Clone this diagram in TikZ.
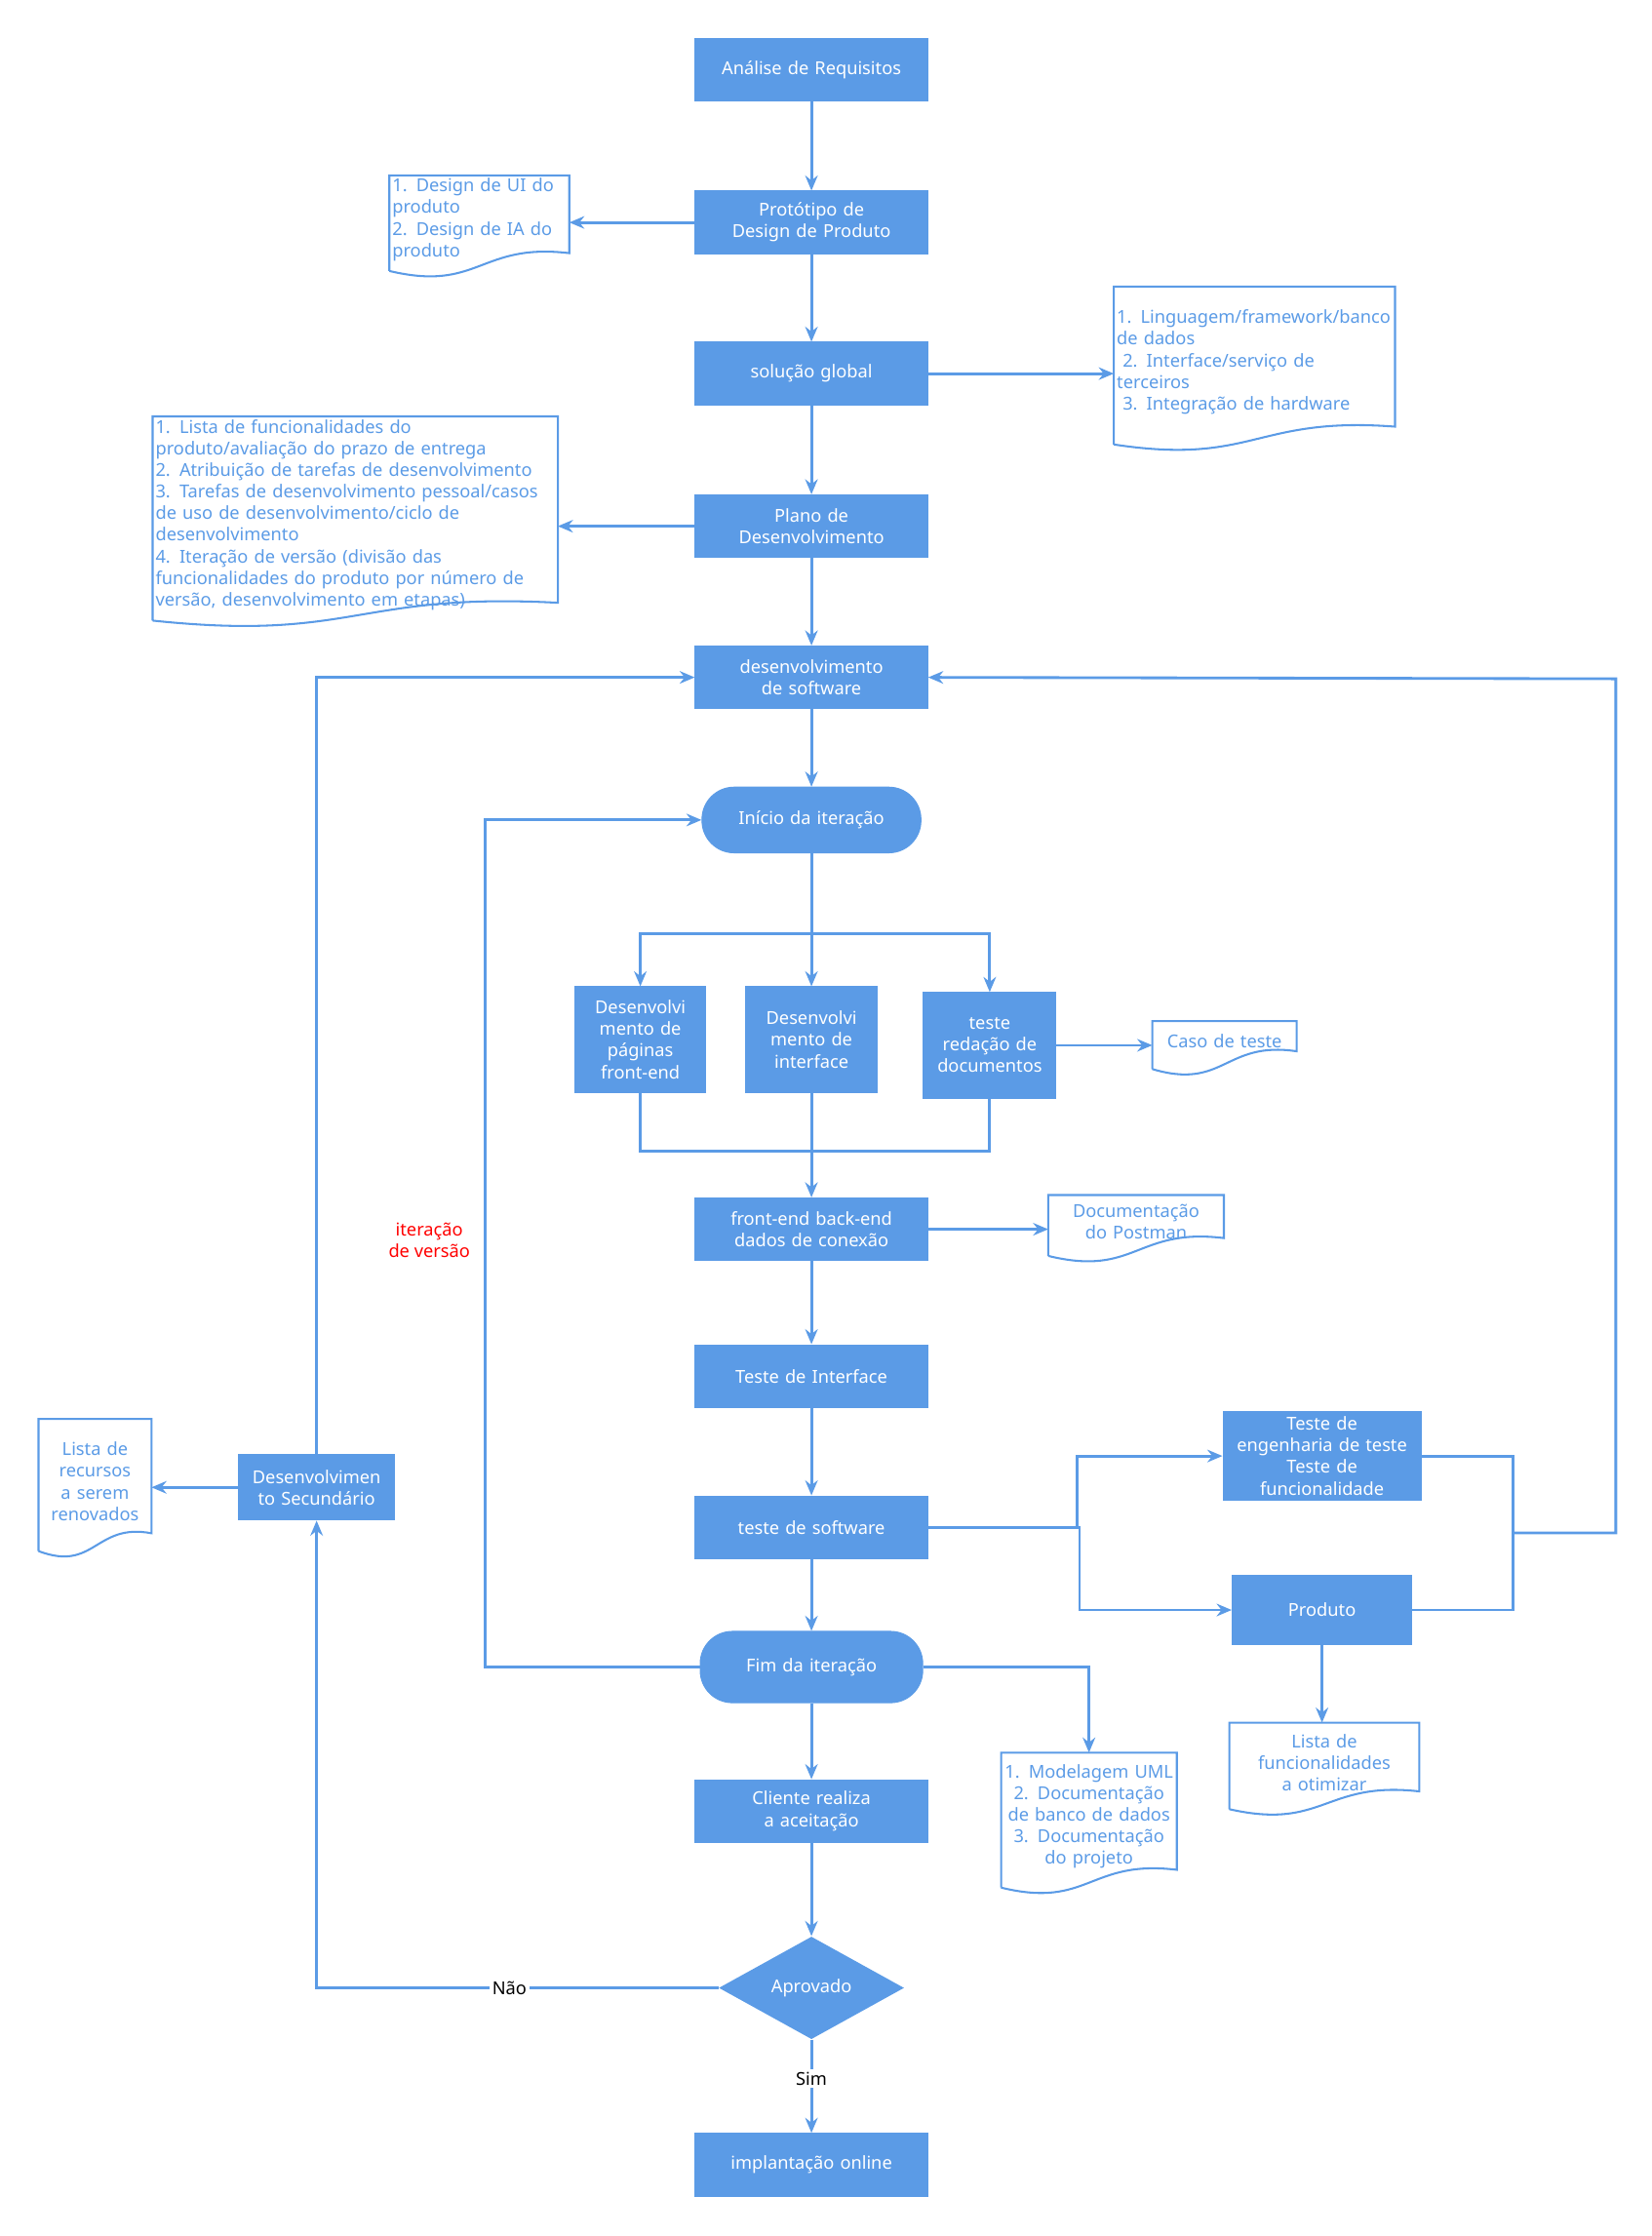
\documentclass[tikz,border=0pt]{standalone}
\usepackage{fontspec}
\setmainfont{Noto Sans}
\usetikzlibrary{positioning, shapes.geometric, arrows.meta, calc}
\definecolor{flow}{HTML}{5B9BE6}
\newcommand{\fs}{\fontsize{7.1}{8.6}\selectfont\hyphenpenalty=10000\exhyphenpenalty=10000}
\begin{document}
\begin{tikzpicture}[x=0.02cm, y=-0.02cm,
  proc/.style={draw=flow, fill=flow, text=white, minimum width=3.26cm, minimum height=0.88cm, text width=3cm, align=center, font=\fs, inner sep=1pt},
  term/.style={proc, rounded corners=0.45cm},
  decision/.style={diamond, fill=flow, text=white, minimum width=2.6cm, minimum height=1.44cm, inner sep=0pt, font=\fs},
  doc/.style={text=flow, inner sep=1pt, font=\fs, anchor=north west},
  link/.style={->, >={Stealth[length=6pt, width=5pt]}, draw=flow, line width=1.1pt},
  wire/.style={draw=flow, line width=1.1pt}
]
\useasboundingbox (0,0) rectangle (1158,1568);

% Main column
\node[proc] (Req) at (569,49) {Análise de Requisitos};
\node[proc] (Proto) at (569,156) {Protótipo de Design de Produto};
\node[proc] (Global) at (569,262) {solução global};
\node[proc] (Plano) at (569,369) {Plano de Desenvolvimento};
\node[proc] (DevSw) at (569,475) {desenvolvimento de software};
\node[term, minimum width=3.04cm, minimum height=0.92cm] (Inicio) at (569,575) {Início da iteração};
\node[proc, minimum width=1.84cm, text width=1.7cm, minimum height=1.48cm] (Front) at (449,729) {Desenvolvi mento de páginas front-end};
\node[proc, minimum width=1.84cm, text width=1.7cm, minimum height=1.48cm] (Inter) at (569,729) {Desenvolvi mento de interface};
\node[proc, minimum width=1.86cm, text width=1.6cm, minimum height=1.48cm] (TDoc) at (694,733) {teste redação de documentos};
\node[proc] (Conn) at (569,862) {front-end back-end dados de conexão};
\node[proc] (TInter) at (569,965) {Teste de Interface};
\node[proc] (TSoft) at (569,1071) {teste de software};
\node[term, minimum width=3.12cm, minimum height=1cm] (Fim) at (569,1169) {Fim da iteração};
\node[proc] (Cliente) at (569,1270) {Cliente realiza a aceitação};
\node[decision] (Aprov) at (569,1394) {Aprovado};
\node[proc] (Online) at (569,1518) {implantação online};
\node[proc, minimum width=2.78cm, text width=2.5cm, minimum height=1.24cm] (TEng) at (927,1021) {Teste de engenharia de teste\\Teste de funcionalidade};
\node[proc, minimum width=2.52cm, text width=2.4cm, minimum height=0.96cm] (Prod) at (927,1129) {Produto};
\node[proc, minimum width=2.18cm, text width=2cm, minimum height=0.92cm] (Sec) at (222,1043) {Desenvolvimen to Secundário};

% Documents
\node[doc, text width=2.44cm, minimum height=1.05cm, align=left] (dUI) at (273,123) {1. Design de UI do produto\\2. Design de IA do produto};
\node[doc, text width=3.86cm, minimum height=2.1cm, align=left] (dStack) at (781,201) {1. Linguagem/framework/banco de dados\\\ 2. Interface/serviço de terceiros\\\ 3. Integração de hardware};
\node[doc, text width=5.6cm, minimum height=2.75cm, align=left] (dPlano) at (107,292) {1. Lista de funcionalidades do produto/avaliação do prazo de entrega\\2. Atribuição de tarefas de desenvolvimento\\3. Tarefas de desenvolvimento pessoal/casos de uso de desenvolvimento/ciclo de desenvolvimento\\4. Iteração de versão (divisão das funcionalidades do produto por número de versão, desenvolvimento em etapas)};
\node[doc, text width=1.94cm, minimum height=0.56cm, align=center] (dCaso) at (808,716) {Caso de teste};
\node[doc, text width=2.38cm, minimum height=0.74cm, align=center] (dPost) at (735,838) {Documentação do Postman};
\node[doc, text width=2.38cm, minimum height=1.78cm, align=center] (dUML) at (702,1229) {1. Modelagem UML\\2. Documentação de banco de dados\\3. Documentação do projeto};
\node[doc, text width=2.58cm, minimum height=1.1cm, align=center] (dLista) at (862,1208) {Lista de funcionalidades a otimizar};
\node[doc, text width=1.5cm, minimum height=1.74cm, align=center] (dRec) at (27,995) {Lista de recursos a serem renovados};

\foreach \d in {dUI, dStack, dPlano, dCaso, dPost, dUML, dLista, dRec}
  \draw[draw=flow, line width=0.8pt] ($(\d.south west)+(0,-0.1cm)$) -- (\d.north west) -- (\d.north east) -- ($(\d.south east)+(0,0.15cm)$)
    .. controls ($(\d.south)+(0,0.3cm)$) and ($(\d.south)+(0,-0.4cm)$) .. ($(\d.south west)+(0,-0.1cm)$);

% Labels
\node[text=red, font=\fs, align=center] (lIter) at (301,870) {iteração\\de versão};

% Connectors
\draw[link] (Req) -- (Proto);
\draw[link] (Proto) -- (Global);
\draw[link] (Global) -- (Plano);
\draw[link] (Plano) -- (DevSw);
\draw[link] (DevSw) -- (Inicio);
\draw[link] (Proto.west) -- (Proto.west -| dUI.east);
\draw[link] (Global.east) -- (Global.east -| dStack.west);
\draw[link] (Plano.west) -- (Plano.west -| dPlano.east);
\draw[link] (Inicio) -- (Inter);
\draw[link] (Inicio.south) |- (569,655) -| (Front.north);
\draw[link] (Inicio.south) |- (569,655) -| (TDoc.north);
\draw[wire] (Front.south) |- (569,807) -| (TDoc.south);
\draw[link] (Inter) -- (Conn);
\draw[link] (TDoc.east) -- (TDoc.east -| dCaso.west);
\draw[link] (Conn.east) -- (Conn.east -| dPost.west);
\draw[link] (Conn) -- (TInter);
\draw[link] (TInter) -- (TSoft);
\draw[link] (TSoft) -- (Fim);
\draw[link] (Fim) -- (Cliente);
\draw[link] (Cliente) -- (Aprov);
\draw[link] (TSoft.east) -- (755,1071) |- (TEng.west);
\draw[link] (TSoft.east) -- (757,1071) |- (Prod.west);
\draw[wire] (TEng.east) -| (1061,1075);
\draw[wire] (Prod.east) -| (1061,1075);
\draw[link] (1061,1075) -| (1133,476) -- (DevSw.east);
\draw[link] (Prod) -- (Prod |- dLista.north);
\draw[link] (Fim.west) -| (340,575) -- (Inicio.west);
\draw[link] (Fim.east) -| (dUML.north);
\draw[link] (Aprov.west) -| node[pos=0.26, fill=white, inner sep=1pt, font=\fs] {Não} (Sec.south);
\draw[link] (Aprov.south) -- node[fill=white, inner sep=1pt, font=\fs, pos=0.42] {Sim} (Online);
\draw[link] (Sec.north) |- (DevSw.west);
\draw[link] (Sec.west) -- (Sec.west -| dRec.east);
\end{tikzpicture}
\end{document}
